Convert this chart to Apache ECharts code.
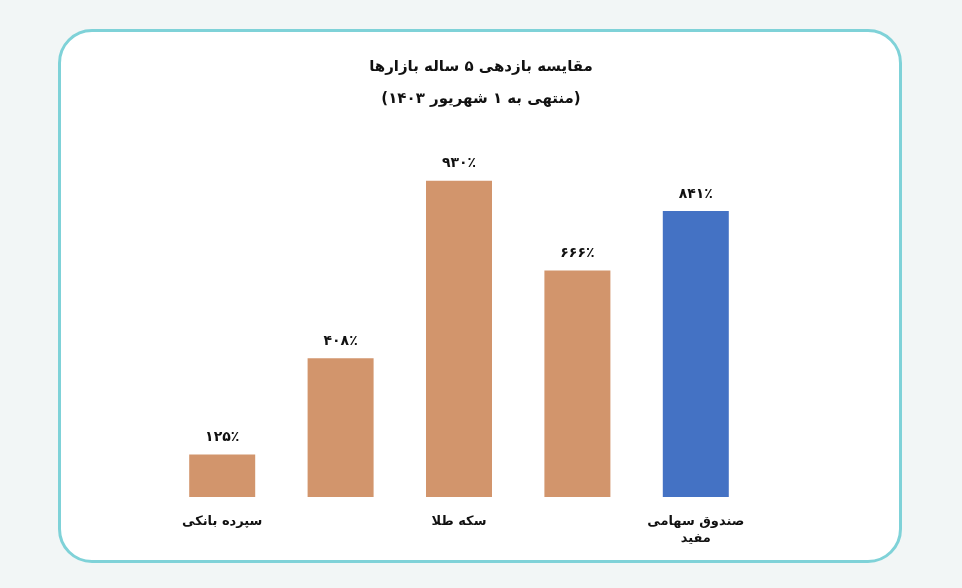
<!DOCTYPE html>
<html><head><meta charset="utf-8">
<script src="https://cdn.jsdelivr.net/npm/echarts@6/dist/echarts.min.js"></script>
<style>
html,body{margin:0;padding:0;width:962px;height:588px;background:#f2f6f6;overflow:hidden}
#card{position:absolute;left:58px;top:29px;width:838px;height:528px;background:#fff;border:3px solid #7fd2d8;border-radius:34px}
#c{position:absolute;left:0;top:0;width:962px;height:588px}
</style></head><body>
<div id="card"></div><div id="c"></div>
<script>
const categories = ['سپرده بانکی','دلار','سکه طلا','شاخص بورس','صندوق سهامی\nمفید'];
const values = [125, 408, 930, 666, 841];
const labels = ['۱۲۵٪','۴۰۸٪','۹۳۰٪','۶۶۶٪','۸۴۱٪'];
const colors = ['#d2956c','#d2956c','#d2956c','#d2956c','#4472c4'];
const font = '"DejaVu Sans", "Noto Sans", sans-serif';
const chart = echarts.init(document.getElementById('c'));
chart.setOption({
  backgroundColor:'transparent',
  title:{text:'مقایسه بازدهی ۵ ساله بازارها\n(منتهی به ۱ شهریور ۱۴۰۳)',left:'center',top:46,
    textStyle:{fontFamily:font,fontWeight:'bold',fontSize:15,color:'#111',lineHeight:32}},
  grid:{left:163,right:207,top:157,bottom:91},
  xAxis:{type:'category',data:categories,axisLine:{show:false},axisTick:{show:false},
    axisLabel:{fontFamily:font,fontWeight:'bold',fontSize:13,color:'#111',margin:16,lineHeight:17}},
  yAxis:{type:'value',min:0,max:1000,show:false,splitLine:{show:false}},
  series:[{type:'bar',barWidth:66,
    data:values.map((v,i)=>({value:v,itemStyle:{color:colors[i]}})),
    label:{show:true,position:'top',distance:10,fontFamily:font,fontWeight:'bold',fontSize:14,color:'#111',
      formatter:p=>labels[p.dataIndex]}}]
});
</script></body></html>
